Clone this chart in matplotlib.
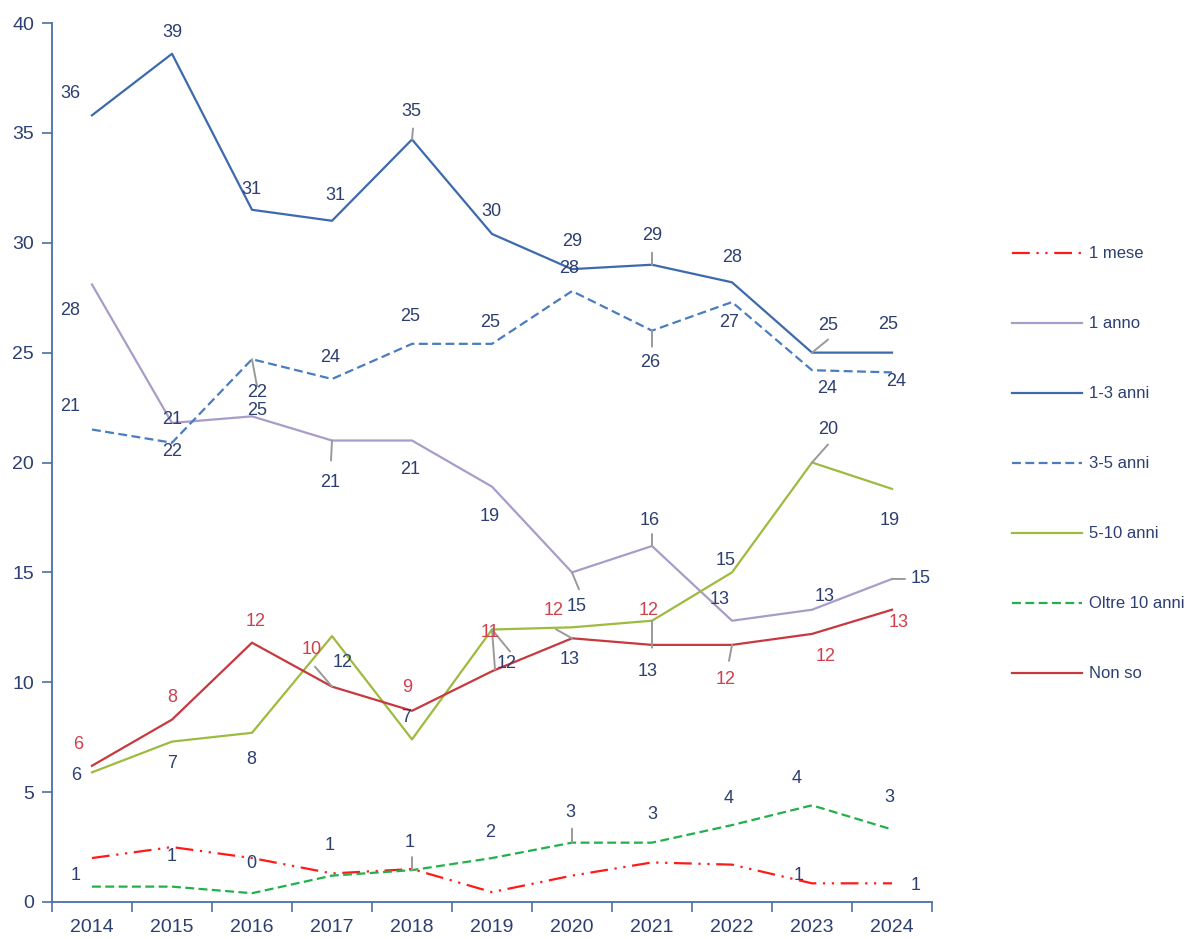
import matplotlib.pyplot as plt
import numpy as np

plt.rcParams['font.family'] = ['Liberation Sans Narrow', 'Liberation Sans', 'DejaVu Sans']

years = [str(y) for y in range(2014, 2025)]

mese_1 = [2.0, 2.5, 2.0, 1.3, 1.5, 0.45, 1.2, 1.8, 1.7, 0.85, 0.85]
anno_1 = [28.1, 21.8, 22.1, 21.0, 21.0, 18.9, 15.0, 16.2, 12.8, 13.3, 14.7]
anni_1_3 = [35.8, 38.6, 31.5, 31.0, 34.7, 30.4, 28.8, 29.0, 28.2, 25.0, 25.0]
anni_3_5 = [21.5, 20.9, 24.7, 23.8, 25.4, 25.4, 27.8, 26.0, 27.3, 24.2, 24.1]
anni_5_10 = [5.9, 7.3, 7.7, 12.1, 7.4, 12.4, 12.5, 12.8, 15.0, 20.0, 18.8]
oltre_10 = [0.7, 0.7, 0.4, 1.2, 1.45, 2.0, 2.7, 2.7, 3.5, 4.4, 3.3]
non_so = [6.2, 8.3, 11.8, 9.8, 8.7, 10.5, 12.0, 11.7, 11.7, 12.2, 13.3]

# data labels as printed in the chart (None = not shown)
lab_mese_1 = [None] * 9 + ['1', '1']
lab_anno_1 = ['28', '21', '25', '21', '21', '19', '15', '16', '13', '13', '15']
lab_1_3 = ['36', '39', '31', '31', '35', '30', '29', '29', '28', '25', '25']
lab_3_5 = ['21', '22', '22', '24', '25', '25', '28', '26', '27', '24', '24']
lab_5_10 = ['6', '7', '8', '12', '7', '12', '13', '13', '15', '20', '19']
lab_oltre = ['1', '1', '0', '1', '1', '2', '3', '3', '4', '4', '3']
lab_non_so = ['6', '8', '12', '10', '9', '11', '12', '12', '12', '12', '13']

NAVY = '#2c3f70'
RED_TXT = '#d0404c'

# label offsets in pixels (dx, dy up) relative to each point
off_mese_1 = [(0, 0)] * 9 + [(-13, 8), (24, -2)]
off_anno_1 = [(-22, -26), (0, 3), (5, 6), (-2, -42), (-2, -29), (-2, -30),
              (5, -34), (-2, 26), (-12, 21), (13, 13), (29, 0)]
off_1_3 = [(-22, 22), (0, 21), (-1, 20), (3, 25), (-1, 28), (-1, 22),
           (0, 28), (0, 29), (0, 25), (16, 27), (-4, 28)]
off_3_5 = [(-22, 23), (0, -9), (5, -33), (-2, 21), (-2, 27), (-2, 21),
           (-3, 23), (-2, -32), (-3, -20), (15, -18), (4, -9)]
off_5_10 = [(-16, -3), (0, -22), (-1, -27), (11, -26), (-6, 22), (15, -34),
            (-2, -32), (-4, -51), (-6, 12), (16, 33), (-2, -32)]
off_oltre = [(-16, 11), (0, 30), (-1, 30), (-2, 30), (-2, 28), (-2, 26),
             (-2, 30), (0, 28), (-3, 27), (-15, 27), (-3, 32)]
off_non_so = [(-14, 21), (0, 22), (4, 21), (-20, 37), (-5, 23), (-2, 39),
              (-18, 28), (-3, 34), (-6, -35), (14, -23), (7, -13)]

series = [
    ('1 mese', mese_1, '#ff1a1a', (0, (8, 3, 1, 3, 1, 3)), lab_mese_1, off_mese_1, NAVY),
    ('1 anno', anno_1, '#a99cc9', '-', lab_anno_1, off_anno_1, NAVY),
    ('1-3 anni', anni_1_3, '#3d69ad', '-', lab_1_3, off_1_3, NAVY),
    ('3-5 anni', anni_3_5, '#4a7cc0', (0, (4, 2)), lab_3_5, off_3_5, NAVY),
    ('5-10 anni', anni_5_10, '#9dbb3e', '-', lab_5_10, off_5_10, NAVY),
    ('Oltre 10 anni', oltre_10, '#22b04b', (0, (4, 2)), lab_oltre, off_oltre, NAVY),
    ('Non so', non_so, '#c8383f', '-', lab_non_so, off_non_so, RED_TXT),
]

# leader lines: (series index, point index, dx0, dy0, dx1, dy1) in pixels
leaders = [
    (2, 4, 0, 0, 1, 11), (3, 2, 0, 0, 5, -27), (1, 3, 0, 0, -1, -20),
    (2, 7, 0, 0, 0, 12), (3, 7, 0, 0, 0, -16), (2, 9, 0, 0, 16, 13),
    (4, 9, 0, 0, 16, 18), (1, 6, 0, 0, 7, -17), (1, 7, 0, 0, 0, 12),
    (1, 10, 0, 0, 13, 0), (4, 7, 0, 0, 0, -27), (6, 8, 0, 0, -3, -16),
    (6, 3, 0, 0, -17, 20), (6, 6, 0, 0, -16, 9), (5, 6, 0, 0, 0, 14),
    (5, 4, 0, 0, 0, 13), (4, 5, 3, -21, 3, -40), (4, 5, 10, -15, 18, -22),
]

fig = plt.figure(figsize=(11.89, 9.39), dpi=100)
ax = fig.add_axes([52 / 1189, 37 / 939, 880 / 1189, 879 / 939])

x = np.arange(len(years))
handles = []
for name, vals, color, ls, labs, offs, tcol in series:
    h, = ax.plot(x, vals, color=color, linestyle=ls, linewidth=1.6, label=name)
    handles.append(h)

for si, pi, dx0, dy0, dx1, dy1 in leaders:
    v = series[si][1][pi]
    ax.annotate('', xy=(x[pi], v), xytext=(dx1, dy1), textcoords='offset pixels',
                arrowprops=dict(arrowstyle='-', color='#9a9a9a', lw=1.4,
                                shrinkA=0, shrinkB=0,
                                patchA=None, patchB=None),
                annotation_clip=False)

for name, vals, color, ls, labs, offs, tcol in series:
    for i, (v, lab, (dx, dy)) in enumerate(zip(vals, labs, offs)):
        if lab is None:
            continue
        ax.annotate(lab, xy=(x[i], v), xytext=(dx, dy), textcoords='offset pixels',
                    ha='center', va='center', fontsize=13, color=tcol)

ax.set_xlim(-0.5, len(years) - 0.5)
ax.set_ylim(0, 40)
ax.set_yticks(np.arange(0, 41, 5))
ax.set_xticks(np.arange(-0.5, len(years), 1))
ax.set_xticklabels([])
ax.set_xticks(x, minor=True)
ax.set_xticklabels(years, minor=True)
ax.tick_params(axis='x', which='major', length=7, direction='out', color='#4a6fa5', width=1.2)
ax.tick_params(axis='x', which='minor', length=0, pad=12, labelsize=14, labelcolor=NAVY)
ax.tick_params(axis='y', length=7, direction='out', color='#4a6fa5', width=1.2,
               labelsize=14, labelcolor=NAVY, pad=6)
for s in ['top', 'right']:
    ax.spines[s].set_visible(False)
for s in ['left', 'bottom']:
    ax.spines[s].set_color('#4a6fa5')
    ax.spines[s].set_linewidth(1.3)

fig.legend(handles=handles, loc='center left', bbox_to_anchor=(1012 / 1189, 1 - 464 / 939),
           frameon=False, fontsize=12, labelspacing=3.3, handlelength=4.2,
           handletextpad=0.4, borderpad=0, borderaxespad=0, labelcolor=NAVY)

fig.savefig('out.png', dpi=100, facecolor='white')
